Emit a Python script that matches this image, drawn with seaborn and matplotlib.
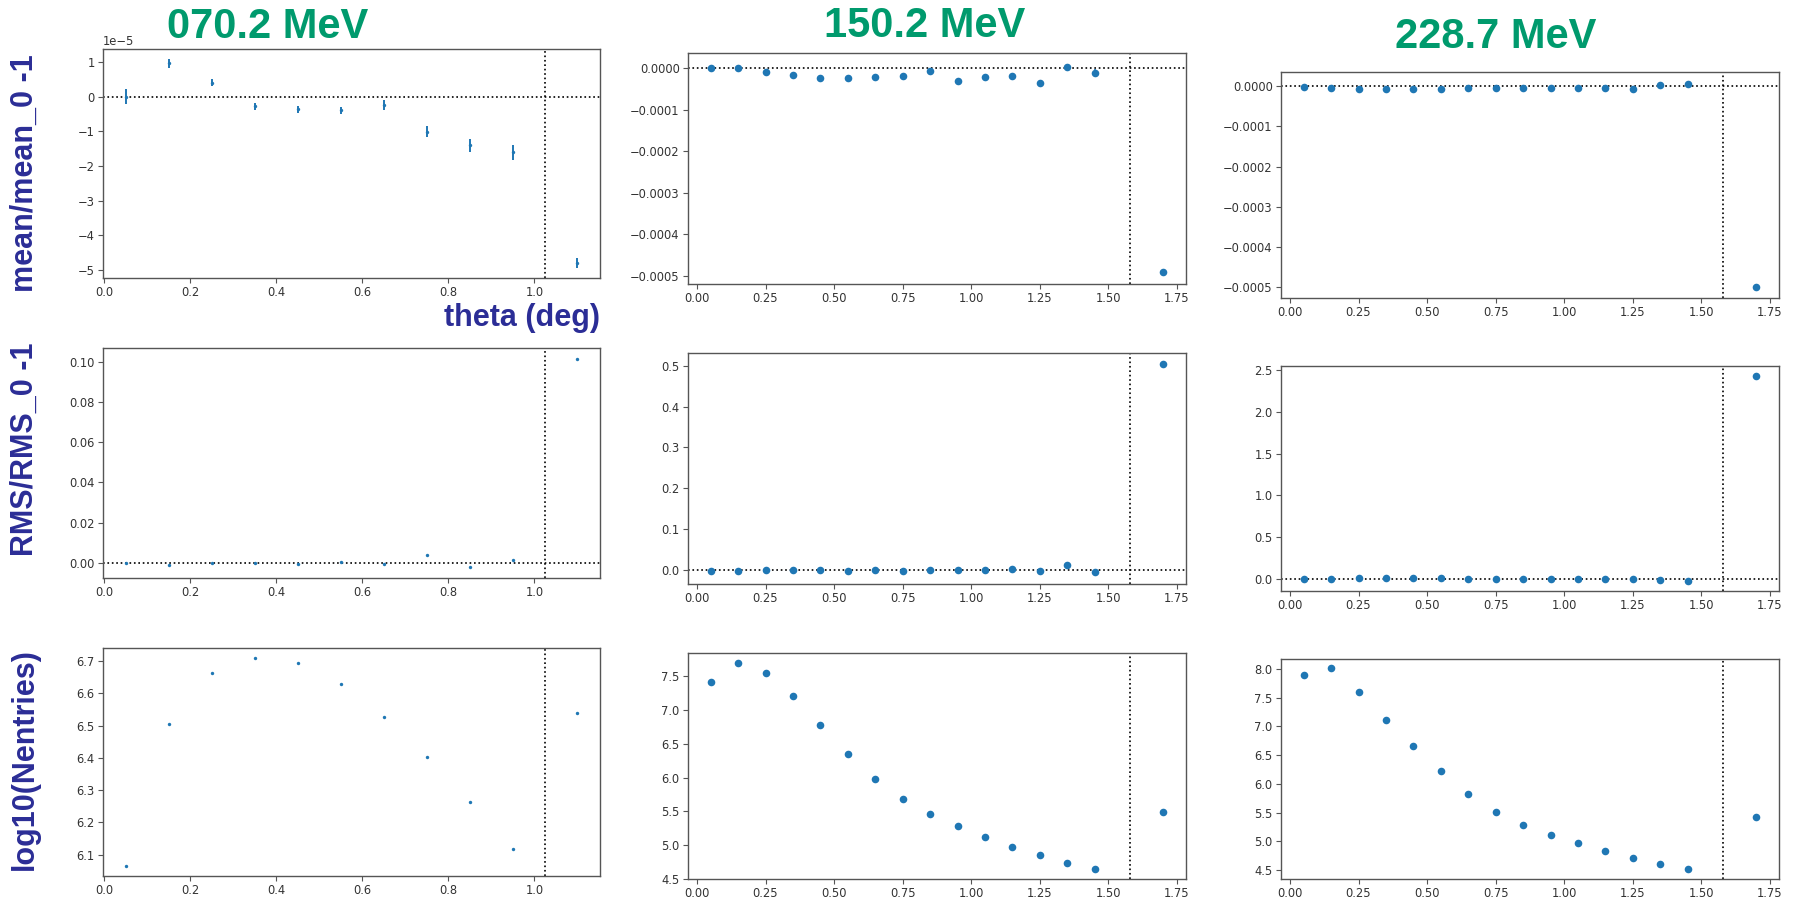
import numpy as np
import matplotlib
matplotlib.use("Agg")
import matplotlib.pyplot as plt
import seaborn as sns

# bin centres (deg)
theta_070 = [0.05, 0.15, 0.25, 0.35, 0.45, 0.55, 0.65, 0.75, 0.85, 0.95, 1.10]
theta_150 = [0.05, 0.15, 0.25, 0.35, 0.45, 0.55, 0.65, 0.75, 0.85, 0.95, 1.05, 1.15, 1.25, 1.35, 1.45, 1.70]
theta_228 = [0.05, 0.15, 0.25, 0.35, 0.45, 0.55, 0.65, 0.75, 0.85, 0.95, 1.05, 1.15, 1.25, 1.35, 1.45, 1.70]

# mean/mean_0 - 1
mean_070 = np.array([0.0, 0.96, 0.40, -0.28, -0.37, -0.40, -0.24, -1.02, -1.40, -1.61, -4.80]) * 1e-5
mean_070_err = np.array([0.22, 0.13, 0.10, 0.10, 0.10, 0.11, 0.14, 0.16, 0.19, 0.22, 0.14]) * 1e-5
mean_150 = np.array([0.0, -0.01, -0.088, -0.177, -0.24, -0.24, -0.21, -0.19, -0.08, -0.32,
                     -0.22, -0.19, -0.37, 0.024, -0.11, -4.90]) * 1e-4
mean_150_err = np.array([0.02, 0.02, 0.02, 0.02, 0.02, 0.02, 0.02, 0.02, 0.02, 0.03,
                         0.03, 0.03, 0.04, 0.065, 0.08, 0.03]) * 1e-4
mean_228 = np.array([-0.01, -0.05, -0.075, -0.06, -0.06, -0.06, -0.05, -0.04, -0.03, -0.03,
                     -0.03, -0.04, -0.06, 0.03, 0.07, -5.00]) * 1e-4
mean_228_err = np.array([0.01, 0.01, 0.01, 0.01, 0.01, 0.01, 0.01, 0.01, 0.01, 0.01,
                         0.01, 0.01, 0.02, 0.02, 0.03, 0.02]) * 1e-4

# RMS/RMS_0 - 1
rms_070 = [0.0, -0.0013, -0.0002, 0.0, -0.0005, 0.0002, -0.0005, 0.004, -0.002, 0.0015, 0.1013]
rms_150 = [-0.001, -0.001, 0.001, 0.001, 0.001, -0.001, 0.001, -0.001, 0.001, 0.001,
           0.001, 0.0025, -0.003, 0.013, -0.005, 0.503]
rms_228 = [-0.004, 0.004, 0.012, 0.012, 0.012, 0.012, 0.004, 0.004, 0.004, 0.004,
           0.0, 0.004, 0.004, -0.012, -0.02, 2.424]

# log10(Nentries)
logn_070 = [6.065, 6.506, 6.663, 6.711, 6.694, 6.629, 6.528, 6.404, 6.265, 6.117, 6.539]
logn_150 = [7.418, 7.699, 7.554, 7.204, 6.778, 6.356, 5.978, 5.687, 5.464, 5.280,
            5.115, 4.980, 4.854, 4.742, 4.645, 5.498]
logn_228 = [7.887, 8.006, 7.598, 7.111, 6.658, 6.222, 5.825, 5.519, 5.293, 5.117,
            4.964, 4.839, 4.715, 4.608, 4.517, 5.417]

energies = ["070.2 MeV", "150.2 MeV", "228.7 MeV"]
row_labels = ["mean/mean_0 -1", "RMS/RMS_0 -1", "log10(Nentries)"]
theta_max = [1.024, 1.577, 1.577]

W, H = 1793, 899
BLUE = "#1f77b4"
GREEN = "#009a6d"
NAVY = "#2b2d96"

sns.set_style("ticks")
plt.rcParams["font.family"] = ["DejaVu Sans"]
plt.rcParams["axes.edgecolor"] = "#555555"
plt.rcParams["xtick.color"] = "#555555"
plt.rcParams["ytick.color"] = "#555555"
plt.rcParams["xtick.labelcolor"] = "#333333"
plt.rcParams["ytick.labelcolor"] = "#333333"


def box(l, t, r, b):
    return [l / W, 1 - b / H, (r - l) / W, (b - t) / H]


fig = plt.figure(figsize=(W / 100, H / 100), dpi=100)

cols_lr = [(103, 600), (688, 1186), (1281, 1779)]
rows_tb = [[(49, 278), (53, 284), (72, 298)],
           [(348, 578), (353, 584), (366, 591)],
           [(648, 876), (653, 879), (659, 879)]]

thetas = [theta_070, theta_150, theta_228]
means = [mean_070, mean_150, mean_228]
mean_errs = [mean_070_err, mean_150_err, mean_228_err]
rmss = [rms_070, rms_150, rms_228]
logns = [logn_070, logn_150, logn_228]

xlims = [(-0.0025, 1.1525), (-0.0325, 1.7825), (-0.0325, 1.7825)]
ylims = [[(-5.23e-5, 1.37e-5), (-5.2e-4, 0.36e-4), (-5.28e-4, 0.36e-4)],
         [(-0.0076, 0.1068), (-0.034, 0.531), (-0.144, 2.548)],
         [(6.034, 6.741), (4.5, 7.844), (4.347, 8.17)]]

for r in range(3):
    for c in range(3):
        l, rr = cols_lr[c]
        t, b = rows_tb[r][c]
        ax = fig.add_axes(box(l, t, rr, b))
        x = thetas[c]
        size = 6 if c == 0 else 30
        if r == 0:
            ax.errorbar(x, means[c], yerr=mean_errs[c], fmt="none",
                        ecolor=BLUE, elinewidth=1.4 if c == 0 else 1.2, zorder=2)
            y = means[c]
        elif r == 1:
            y = rmss[c]
        else:
            y = logns[c]
        sns.scatterplot(x=x, y=y, ax=ax, color=BLUE, s=size, linewidth=0, zorder=3)
        if r < 2:
            ax.axhline(0, color="k", ls=":", lw=1.2, zorder=1)
        ax.axvline(theta_max[c], color="k", ls=":", lw=1.2, zorder=1)
        ax.set_xlim(*xlims[c])
        ax.set_ylim(*ylims[r][c])
        ax.tick_params(labelsize=8.3, length=3.5, width=0.8, pad=2.5)
        ax.yaxis.get_offset_text().set_fontsize(8.3)
        for sp in ax.spines.values():
            sp.set_linewidth(1.0)

# energy titles
for txt, (cx, cy) in zip(energies, [(268, 27), (925, 26), (1496, 37)]):
    fig.text(cx / W, 1 - cy / H, txt, ha="center", va="center", color=GREEN,
             fontsize=30, fontweight="bold", family=["Liberation Sans", "DejaVu Sans"])

# row labels
for txt, cy in zip(row_labels, [173, 449, 759]):
    fig.text(25 / W, 1 - cy / H, txt, rotation=90, ha="center", va="center", color=NAVY,
             fontsize=22, fontweight="bold", family=["Liberation Sans", "DejaVu Sans"])

fig.text(522 / W, 1 - 318 / H, "theta (deg)", ha="center", va="center", color=NAVY,
         fontsize=22, fontweight="bold", family=["Liberation Sans", "DejaVu Sans"])

fig.savefig("out.png", dpi=100)
